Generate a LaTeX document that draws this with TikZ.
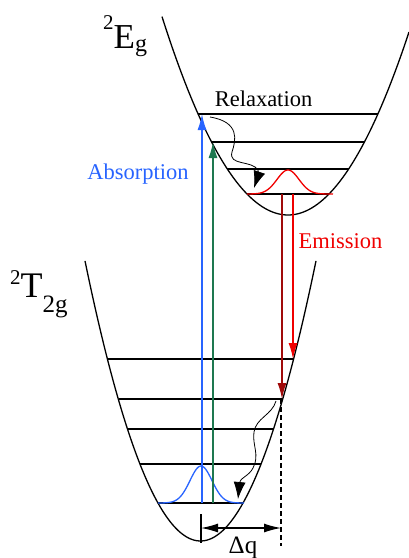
\documentclass[tikz,border=0pt]{standalone}
\usepackage{fontspec}
\setmainfont{Liberation Serif}
\usetikzlibrary{arrows.meta,calc}
\definecolor{absblue}{RGB}{40,100,255}
\definecolor{absgreen}{RGB}{30,120,80}
\definecolor{emred}{RGB}{240,0,0}
\definecolor{emdark}{RGB}{160,10,10}
\begin{document}
\begin{tikzpicture}[x=1pt,y=-1pt,
  curve/.style={line width=1.3pt},
  level/.style={line width=1.5pt},
  trans/.style={line width=1.4pt,-{Latex[length=16pt,width=9pt]}},
  relax/.style={line width=0.8pt,-{Latex[length=17pt,width=12pt]}},
  gauss/.style={line width=1.3pt},
  lbl/.style={inner sep=0pt, font=\fontsize{22.5}{26}\selectfont},
  dqarrow/.style={line width=1.3pt,{Latex[length=17pt,width=9pt]}-{Latex[length=17pt,width=9pt]}},
  dashv/.style={line width=1.3pt,dash pattern=on 5pt off 3pt},
]
\useasboundingbox (0,0) rectangle (409,558);

% potential curves
\draw[curve] plot[domain=162:409,samples=90] (\x,{215-0.0125*(\x-288)^2});
\draw[curve] plot[domain=85:316,samples=90] (\x,{541-0.021*(\x-200.5)^2});

% upper levels
\coordinate (u1l) at (198.1,114); \coordinate (u1r) at (377.9,114);
\coordinate (u2l) at (211.6,142); \coordinate (u2r) at (364.4,142);
\coordinate (u3l) at (227.3,169); \coordinate (u3r) at (348.7,169);
\coordinate (u4l) at (247,194);   \coordinate (u4r) at (329,194);
\foreach \i in {1,2,3,4} \draw[level] (u\i l) -- (u\i r);

% lower levels
\coordinate (l1l) at (108.4,359); \coordinate (l1r) at (292.6,359);
\coordinate (l2l) at (118.8,399); \coordinate (l2r) at (282.7,399);
\coordinate (l3l) at (127.5,429); \coordinate (l3r) at (273.5,429);
\coordinate (l4l) at (140,464);   \coordinate (l4r) at (261,464);
\coordinate (l5l) at (158,503);   \coordinate (l5r) at (243,503);
\foreach \i in {1,2,3,4,5} \draw[level] (l\i l) -- (l\i r);

% wave packets
\draw[gauss,emred] plot[domain=247:333,samples=80] (\x,{194-24*exp(-((\x-288)^2)/(2*11^2))});
\draw[gauss,absblue] plot[domain=158:244,samples=80] (\x,{503-37*exp(-((\x-201)^2)/(2*11^2))});

% absorption / emission arrows
\coordinate (ab0) at (202,503); \coordinate (ab1) at (202,114);
\coordinate (ag0) at (213,503); \coordinate (ag1) at (213,142);
\coordinate (ed0) at (282,194); \coordinate (ed1) at (282,399);
\coordinate (er0) at (293,194); \coordinate (er1) at (293,359);
\draw[trans,absblue] (ab0) -- (ab1);
\draw[trans,absgreen] (ag0) -- (ag1);
\draw[trans,emdark] (ed0) -- (ed1);
\draw[trans,emred] (er0) -- (er1);

% relaxation wiggles
\coordinate (rs1) at (210,117); \coordinate (re1) at (254,188);
\draw[relax] (rs1) .. controls (240,122) and (236,140) .. (232,152)
  .. controls (228,166) and (252,160) .. (258,170)
  .. controls (260,176) and (256,182) .. (re1);
\coordinate (rs2) at (276,401); \coordinate (re2) at (238,499);
\draw[relax] (rs2) .. controls (272,415) and (256,418) .. (254,432)
  .. controls (252,445) and (260,455) .. (253,468)
  .. controls (249,476) and (240,478) .. (re2);

% displacement
\coordinate (dq1) at (281,399); \coordinate (dq2) at (281,546);
\draw[dashv] (dq1) -- (dq2);
\coordinate (tk1) at (201,514); \coordinate (tk2) at (201,543);
\draw[line width=1.3pt] (tk1) -- (tk2);
\coordinate (qa) at (201,528); \coordinate (qb) at (281,528);
\draw[dqarrow] (qa) -- (qb);

% labels
\node[lbl, anchor=base] (relaxlbl) at (263.5,106) {Relaxation};
\node[lbl, anchor=base, text=absblue] (abslbl) at (138,179) {Absorption};
\node[lbl, anchor=base, text=emred] (emilbl) at (340.5,248) {Emission};
\node[lbl, anchor=base, font=\fontsize{25}{28}\selectfont] (dqlbl) at (243,553) {Δq};
\node[inner sep=0pt, anchor=base west] (Eg) at (103,48)
  {\fontsize{35}{40}\selectfont\raisebox{19pt}{\fontsize{21}{22}\selectfont 2}E\raisebox{-3pt}{\fontsize{24}{26}\selectfont g}};
\node[inner sep=0pt, anchor=base west] (T2g) at (10,297)
  {\fontsize{36}{40}\selectfont\raisebox{13pt}{\fontsize{21}{22}\selectfont 2}T\raisebox{-15pt}{\fontsize{25}{26}\selectfont 2g}};
\end{tikzpicture}
\end{document}
